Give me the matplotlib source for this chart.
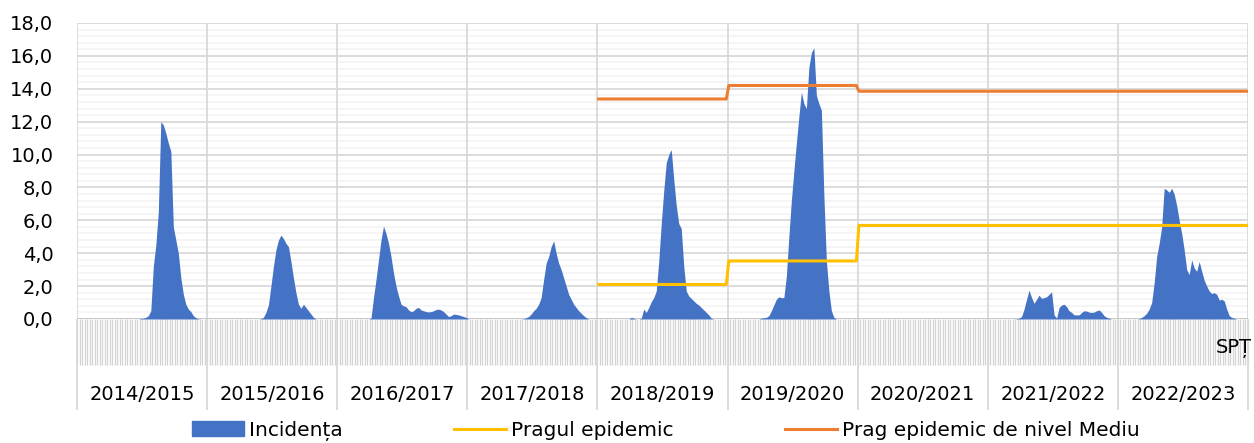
import numpy as np
import matplotlib.pyplot as plt
from matplotlib.patches import Patch
from matplotlib.lines import Line2D
from matplotlib.ticker import MultipleLocator, FuncFormatter

WEEKS = 52

seasons = ["2014/2015", "2015/2016", "2016/2017", "2017/2018", "2018/2019",
           "2019/2020", "2020/2021", "2021/2022", "2022/2023"]

# weekly incidence per season (leading zeros = weeks before the epidemic)
inc_2014 = [0.0] * 25 + [0.03, 0.05, 0.1, 0.2, 0.5, 3.2, 4.5, 6.5, 12.0, 11.8, 11.3,
                         10.7, 10.2, 5.6, 4.8, 4.0, 2.5, 1.5, 0.9, 0.6, 0.45, 0.2,
                         0.08, 0.02]
inc_2015 = [0.0] * 21 + [0.02, 0.1, 0.4, 0.85, 2.0, 3.2, 4.2, 4.8, 5.1, 4.9, 4.6,
                         4.4, 3.5, 2.5, 1.6, 0.9, 0.65, 0.9, 0.7, 0.5, 0.3, 0.1]
inc_2016 = [0.0] * 13 + [0.05, 1.3, 2.4, 3.6, 4.8, 5.65, 5.2, 4.6, 3.8, 2.8, 2.0,
                         1.4, 0.9, 0.8, 0.75, 0.55, 0.45, 0.5, 0.65, 0.7, 0.55, 0.5,
                         0.45, 0.43, 0.45, 0.5, 0.58, 0.6, 0.55, 0.45, 0.3, 0.15,
                         0.2, 0.3, 0.28, 0.25, 0.2, 0.15, 0.1]
inc_2017 = [0.0] * 22 + [0.02, 0.08, 0.15, 0.3, 0.5, 0.65, 0.9, 1.3, 2.4, 3.4, 3.8,
                         4.4, 4.75, 4.0, 3.4, 3.0, 2.5, 2.0, 1.5, 1.2, 0.9, 0.7,
                         0.5, 0.35, 0.2, 0.08]
inc_2018 = [0.0] * 13 + [0.1, 0.05, 0.0, 0.0, 0.05, 0.6, 0.4, 0.7, 1.05, 1.3, 1.7,
                         3.5, 5.8, 7.8, 9.5, 10.0, 10.3, 8.5, 6.9, 5.8, 5.5, 3.2,
                         1.7, 1.4, 1.25, 1.1, 0.95, 0.85, 0.7, 0.55, 0.4, 0.25, 0.05]
inc_2019 = [0.0] * 13 + [0.05, 0.08, 0.1, 0.2, 0.5, 0.85, 1.2, 1.35, 1.3, 1.3, 2.6,
                         5.0, 7.2, 9.0, 10.7, 12.3, 13.8, 13.1, 12.8, 15.3, 16.2,
                         16.5, 13.6, 13.1, 12.7, 7.5, 3.5, 1.7, 0.5, 0.1]
inc_2020 = [0.0] * WEEKS
inc_2021 = [0.0] * 11 + [0.02, 0.05, 0.15, 0.6, 1.2, 1.75, 1.3, 0.95, 1.2, 1.45,
                         1.25, 1.3, 1.35, 1.5, 1.65, 0.25, 0.05, 0.7, 0.85, 0.9,
                         0.75, 0.5, 0.4, 0.25, 0.25, 0.25, 0.4, 0.5, 0.48, 0.42,
                         0.4, 0.42, 0.5, 0.55, 0.4, 0.2, 0.1, 0.05]
inc_2022 = [0.0] * 8 + [0.02, 0.1, 0.2, 0.35, 0.6, 1.0, 2.2, 3.8, 4.6, 5.6, 7.95,
                        7.85, 7.7, 7.95, 7.6, 6.9, 6.0, 5.2, 4.2, 3.0, 2.7, 3.6,
                        3.1, 2.9, 3.5, 2.9, 2.35, 2.0, 1.7, 1.55, 1.6, 1.5, 1.15,
                        1.2, 1.1, 0.6, 0.2, 0.1, 0.05]

# thresholds per season (no value before 2018/2019)
prag_epidemic = [np.nan] * 4 + [2.1, 3.53, 5.69, 5.69, 5.69]
prag_mediu = [np.nan] * 4 + [13.38, 14.2, 13.85, 13.85, 13.85]

BLUE = "#4472C4"
YELLOW = "#FFC000"
ORANGE = "#ED7D31"
GRID = "#D9D9D9"


def pad(vals):
    return vals + [0.0] * (WEEKS - len(vals))


incidence = np.concatenate([pad(s) for s in [inc_2014, inc_2015, inc_2016, inc_2017,
                                             inc_2018, inc_2019, inc_2020, inc_2021,
                                             inc_2022]])
n = len(incidence)
x = np.arange(n) + 0.5
prag = np.repeat(prag_epidemic, WEEKS)
mediu = np.repeat(prag_mediu, WEEKS)

plt.rcParams["font.family"] = ["DejaVu Sans"]
fig = plt.figure(figsize=(12.54, 4.43), dpi=100)
ax = fig.add_axes([77 / 1254, 1 - 319 / 443, 1171 / 1254, 296 / 443])

ax.fill_between(x, incidence, color=BLUE, lw=0, zorder=3)
ax.plot(x, prag, color=YELLOW, lw=2.2, zorder=4)
ax.plot(x, mediu, color=ORANGE, lw=2.2, zorder=4)

ax.set_xlim(0, n)
ax.set_ylim(0, 18)
ax.yaxis.set_major_locator(MultipleLocator(2))
ax.yaxis.set_minor_locator(MultipleLocator(0.4))
ax.yaxis.set_major_formatter(FuncFormatter(lambda v, p: f"{v:.1f}".replace(".", ",")))
ax.grid(axis="y", which="major", color=GRID, lw=1.3, zorder=1)
ax.grid(axis="y", which="minor", color="#F4F4F4", lw=1.3, zorder=0)
ax.set_axisbelow(True)
ax.tick_params(axis="y", which="both", length=0, labelsize=14, pad=17)
ax.tick_params(axis="x", which="both", length=0, labelbottom=False)
for sp in ax.spines.values():
    sp.set_visible(False)

trans = ax.get_xaxis_transform()
bounds = np.arange(0, n + 1, WEEKS)
band = 46 / 296
bottom = 91 / 296
ax.vlines(bounds, 0, 1, transform=trans, color=GRID, lw=1.3, zorder=1)
ax.vlines(np.arange(n + 1), -band, 0, transform=trans, color="#D4D4D4", lw=0.9,
          clip_on=False)
ax.vlines(bounds, -bottom, 0, transform=trans, color=GRID, lw=1.3, clip_on=False)
ax.axhline(0, color="#C8C8C8", lw=1.3, zorder=2)

for i, s in enumerate(seasons):
    ax.text((i + 0.5) * WEEKS, -76 / 296, s, transform=trans, ha="center",
            va="center", fontsize=14)
ax.text(1.0035, -29 / 296, "SPȚ", transform=ax.transAxes, ha="right", va="center",
        fontsize=14)

handles = [Patch(color=BLUE, label="Incidența"),
           Line2D([], [], color=YELLOW, lw=2.2, label="Pragul epidemic"),
           Line2D([], [], color=ORANGE, lw=2.2, label="Prag epidemic de nivel Mediu")]
fig.legend(handles=handles, loc="center", bbox_to_anchor=(0.531, 0.028), ncol=3,
           frameon=False, fontsize=14.5, handlelength=2.6, handletextpad=0.25,
           columnspacing=5.5, borderpad=0.1)

fig.savefig("out.png", dpi=100)
